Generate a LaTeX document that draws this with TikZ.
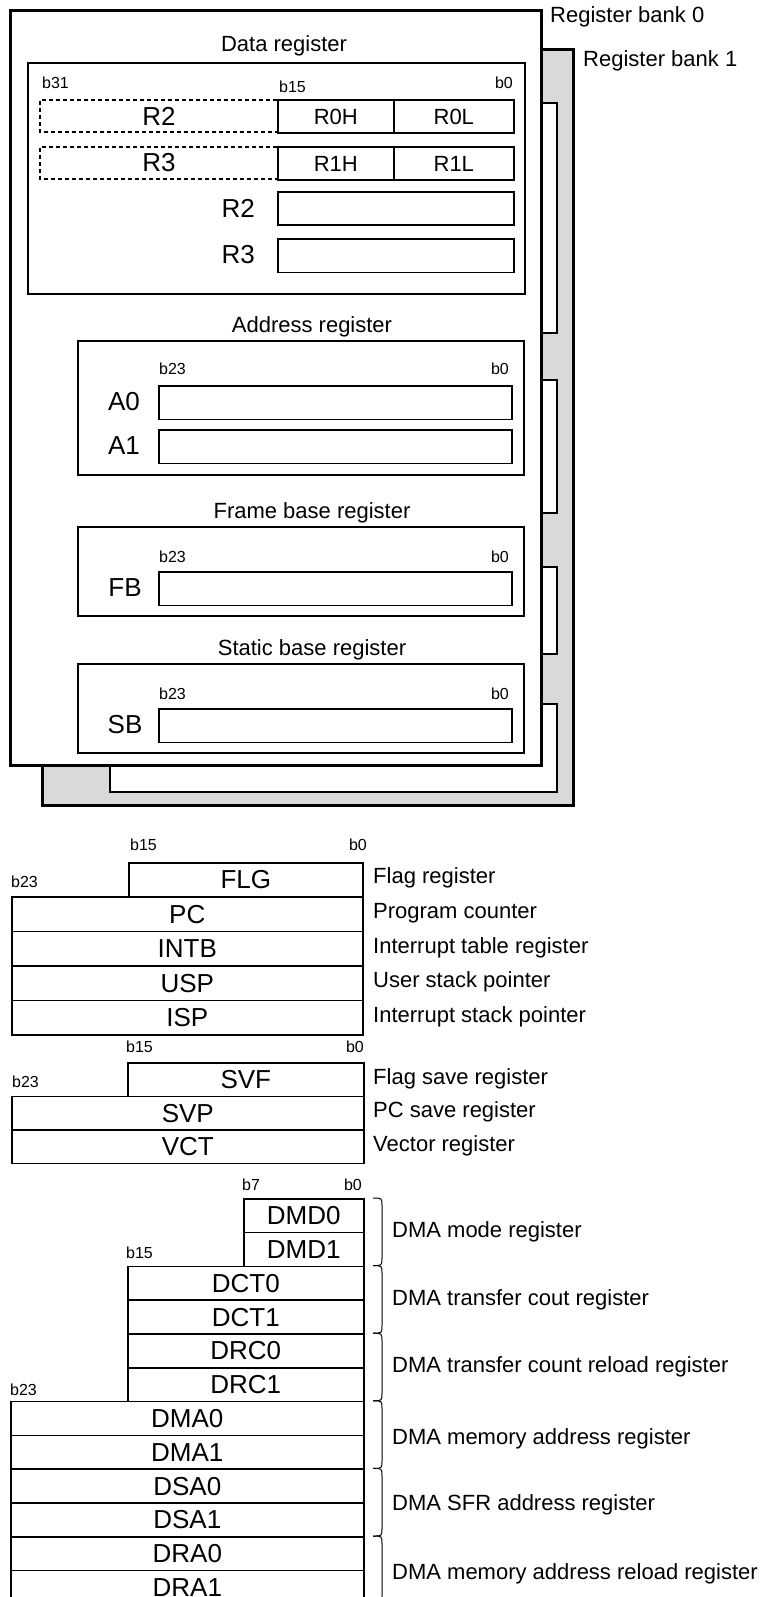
\documentclass[tikz,border=0pt]{standalone}
\usepackage{fontspec}
\setmainfont{Liberation Sans}
\definecolor{bankgray}{gray}{0.85}
\tikzset{
  regbox/.style={draw,line width=1.6pt,anchor=north west,inner sep=0pt,minimum height=33.5pt},
  grpbox/.style={line width=1.6pt},
  bankbox/.style={line width=3pt},
  bitlab/.style={inner sep=0pt,font=\fontsize{16}{18}\selectfont},
  txt/.style={inner sep=0pt,font=\fontsize{22}{26}\selectfont},
  bigtxt/.style={inner sep=0pt,font=\fontsize{26}{30}\selectfont},
}
\begin{document}
\begin{tikzpicture}[x=1pt,y=-1pt]
\useasboundingbox (0,0) rectangle (769,1597);
\clip (0,0) rectangle (769,1597);
% bank 1, behind
\draw[bankbox,fill=bankgray] (42,50) rectangle (573,805);
\foreach \t/\b in {103/333,380/513,567/654}
  \draw[line width=1.2pt,fill=white] (520,\t) rectangle (557,\b);
\draw[line width=1.2pt,fill=white] (110,704) rectangle (557,792);
% bank 0
\draw[bankbox,fill=white] (10,11) rectangle (541,765);
\node[txt,anchor=west] (bank0) at (550,17) {Register bank 0};
\node[txt,anchor=west] (bank1) at (583,61) {Register bank 1};
% data registers
\node[txt] (datttl) at (284,46) {Data register};
\draw[grpbox] (28,63) rectangle (525,294);
\node[bitlab,anchor=west] (d31) at (42,83) {b31};
\node[bitlab,anchor=west] (d15) at (279,87) {b15};
\node[bitlab,anchor=east] (d0) at (513,83) {b0};
\foreach \y/\hi/\lo/\up in {99/R0H/R0L/R2,146/R1H/R1L/R3}{
  \draw[line width=1.2pt,dash pattern=on 4pt off 3pt] (277,\y+1) -- (40,\y+1) -- (40,\y+33) -- (277,\y+33);
  \node[regbox,txt,minimum width=116pt] (\hi) at (277,\y) {\hi};
  \node[regbox,txt,minimum width=120pt] (\lo) at (393,\y) {\lo};
  \node[bigtxt] (up\up) at (159,\y+17) {\up};
}
\foreach \y/\r in {191/R2,238/R3}{
  \node[regbox,minimum width=236pt] (\r box) at (277,\y) {};
  \node[bigtxt,anchor=east] (\r lab) at (255,\y+17) {\r};
}
% address registers
\node[txt] (adrttl) at (312,327) {Address register};
\draw[grpbox] (78,341) rectangle (524,475);
\node[bitlab,anchor=west] (a23) at (159,369) {b23};
\node[bitlab,anchor=east] (a0) at (509,369) {b0};
\foreach \y/\r in {385/A0,429/A1}{
  \node[regbox,minimum width=353pt] (\r) at (158,\y) {};
  \node[bigtxt] (\r lab) at (124,\y+17) {\r};
}
% frame base and static base
\foreach \t/\n/\r in {513/Frame base register/FB,650/Static base register/SB}{
  \node[txt] (\r ttl) at (312,\t) {\n};
  \draw[grpbox] (78,\t+14) rectangle (524,\t+103);
  \node[bitlab,anchor=west] (\r23) at (159,\t+44) {b23};
  \node[bitlab,anchor=east] (\r0) at (509,\t+44) {b0};
  \node[regbox,minimum width=353pt] (\r) at (158,\t+58) {};
  \node[bigtxt] (\r lab) at (125,\t+75) {\r};
}
% control registers
\node[bitlab,anchor=west] (f15) at (130,845) {b15};
\node[bitlab,anchor=east] (f0) at (367,845) {b0};
\node[bitlab,anchor=west] (f23) at (11,882) {b23};
\node[regbox,bigtxt,minimum width=234pt,minimum height=34pt] (FLG) at (128,862) {FLG};
\node[txt,anchor=west] (FLG txt) at (373,878) {Flag register};
\foreach \i/\r/\d in {0/PC/Program counter,1/INTB/Interrupt table register,2/USP/User stack pointer,3/ISP/Interrupt stack pointer}{
  \node[regbox,bigtxt,minimum width=351pt,minimum height=34.5pt] (\r) at (11,896+34.5*\i) {\r};
  \node[txt,anchor=west] (\r txt) at (373,913+34.5*\i) {\d};
}
\node[bitlab,anchor=west] (s15) at (126,1047) {b15};
\node[bitlab,anchor=east] (s0) at (364,1047) {b0};
\node[bitlab,anchor=west] (s23) at (12,1082) {b23};
\node[regbox,bigtxt,minimum width=236pt] (SVF) at (127,1062) {SVF};
\node[txt,anchor=west] (SVF txt) at (373,1079) {Flag save register};
\foreach \i/\r/\d in {0/SVP/PC save register,1/VCT/Vector register}{
  \node[regbox,bigtxt,minimum width=352pt] (\r) at (11,1095.5+33.5*\i) {\r};
  \node[txt,anchor=west] (\r txt) at (373,1112+33.5*\i) {\d};
}
% DMA registers
\node[bitlab,anchor=west] (m7) at (242,1185) {b7};
\node[bitlab,anchor=east] (m0) at (362,1185) {b0};
\node[bitlab,anchor=west] (m15) at (126,1253) {b15};
\node[bitlab,anchor=west] (m23) at (10,1390) {b23};
\foreach \i/\r/\x in {0/DMD0/243,1/DMD1/243,2/DCT0/127,3/DCT1/127,4/DRC0/127,5/DRC1/127,6/DMA0/10,7/DMA1/10,8/DSA0/10,9/DSA1/10,10/DRA0/10,11/DRA1/10}
  \node[regbox,bigtxt,minimum width={(363-\x)*1pt},minimum height=33.8pt] (\r) at (\x,1198+33.8*\i) {\r};
\foreach \g/\dy/\d in {0/0/DMA mode register,1/0/DMA transfer cout register,2/0/DMA transfer count reload register,3/4/DMA memory address register,4/3/DMA SFR address register,5/4/DMA memory address reload register}{
  \pgfmathsetmacro\t{1198+67.6*\g}
  \pgfmathsetmacro\b{\t+67.6}
  \draw[line width=1pt] (373,\t) .. controls (382,\t) .. (382,\t+8) -- (382,\b-8) .. controls (382,\b) .. (373,\b);
  \node[txt,anchor=west] (dma\g) at (392,\t+33.8+\dy) {\d};
}
\end{tikzpicture}
\end{document}
